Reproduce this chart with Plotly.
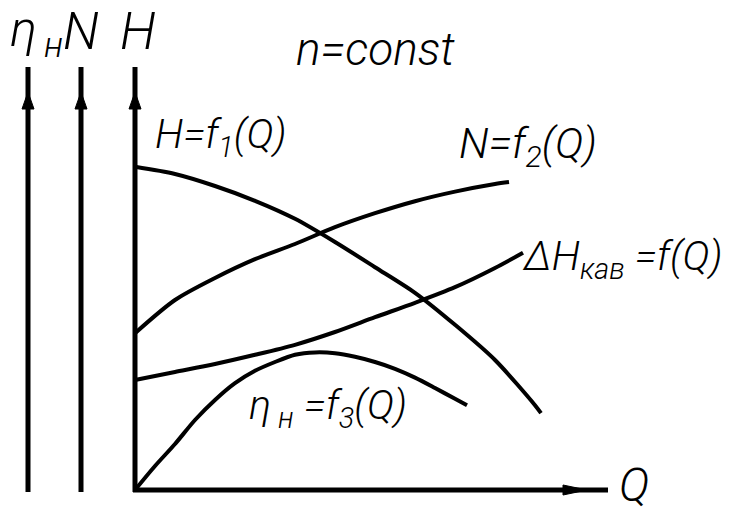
import plotly.graph_objects as go

# Pump characteristic curves at constant speed (schematic units)
q_head = [0, 1, 2, 3, 4, 5, 6, 7, 8, 9, 10, 10.15]
head = [8.08, 7.9, 7.6, 7.23, 6.78, 6.2, 5.57, 4.93, 4.13, 3.25, 2.12, 1.92]

q_power = [0, 1, 2, 3, 4, 5, 6, 7, 8, 9, 9.35]
power = [3.92, 4.75, 5.3, 5.77, 6.15, 6.57, 6.92, 7.22, 7.46, 7.65, 7.7]

q_cav = [0, 1, 2, 3, 4, 5, 6, 7, 8, 9, 9.7]
cav_head = [2.75, 2.95, 3.15, 3.38, 3.63, 3.95, 4.32, 4.68, 5.07, 5.55, 5.93]

q_eff = [0, 0.5, 1, 1.5, 2, 2.5, 3, 3.5, 4, 4.5, 5, 5.5, 6, 6.5, 7, 7.5, 8, 8.3]
efficiency = [0, 0.6, 1.15, 1.75, 2.25, 2.67, 2.98, 3.2, 3.38, 3.44, 3.42,
              3.33, 3.2, 3.03, 2.81, 2.55, 2.28, 2.12]

W, HGT = 731, 511
X0, Y0, SCALE = 135, 490, 40  # origin of the Q-H axes on the page, px per unit


def qx(px):
    return (px - X0) / SCALE


def hy(py):
    return (Y0 - py) / SCALE


FONT = "Roboto, Liberation Sans, sans-serif"
INK = "black"

fig = go.Figure()
for q, v in [(q_head, head), (q_power, power), (q_cav, cav_head), (q_eff, efficiency)]:
    fig.add_trace(go.Scatter(
        x=q, y=v, mode="lines",
        line=dict(color=INK, width=4, shape="spline", smoothing=0.8),
        hoverinfo="skip", showlegend=False,
    ))

shapes = []
axis_top = hy(67)
# vertical axes: eta, N and H
for px in (28, 81, 135):
    shapes.append(dict(type="line", x0=qx(px), x1=qx(px), y0=hy(492), y1=axis_top,
                       line=dict(color=INK, width=5)))
    shapes.append(dict(
        type="path",
        path=f"M {qx(px - 6)} {hy(109)} L {qx(px)} {hy(92)} L {qx(px + 6)} {hy(109)} Z",
        fillcolor=INK, line=dict(color=INK, width=1)))
# Q axis
shapes.append(dict(type="line", x0=qx(133), x1=qx(608), y0=0, y1=0,
                   line=dict(color=INK, width=5)))
shapes.append(dict(
    type="path",
    path=f"M {qx(563)} {hy(485)} L {qx(587)} 0 L {qx(563)} {hy(495)} Z",
    fillcolor=INK, line=dict(color=INK, width=1)))


def label(text, px, py, size, anchor="left"):
    return dict(x=qx(px), y=hy(py), text=text, showarrow=False,
                xanchor=anchor, yanchor="middle",
                font=dict(family=FONT, size=size, color=INK, style="italic", weight=300))


annotations = [
    label("η<sub>\u2009н</sub>", 8, 33, 50),
    label("N", 61, 31, 52),
    label("H", 118, 31, 52),
    label("n=const", 294, 49, 46),
    label("H=f<sub>1</sub>(Q)", 153, 137, 41),
    label("N=f<sub>2</sub>(Q)", 457, 146, 43),
    label("ΔH<sub>кав</sub> =f(Q)", 520, 259, 41),
    label("η<sub> н</sub> =f<sub>3</sub>(Q)", 247, 408, 41),
    label("Q", 617, 485, 46),
]

fig.update_layout(
    width=W, height=HGT,
    margin=dict(l=0, r=0, t=0, b=0),
    paper_bgcolor="white", plot_bgcolor="white",
    xaxis=dict(range=[qx(0), qx(W)], visible=False, fixedrange=True),
    yaxis=dict(range=[hy(HGT), hy(0)], visible=False, fixedrange=True),
    shapes=shapes, annotations=annotations,
)

fig.write_html("out.html", config={"displayModeBar": False})
